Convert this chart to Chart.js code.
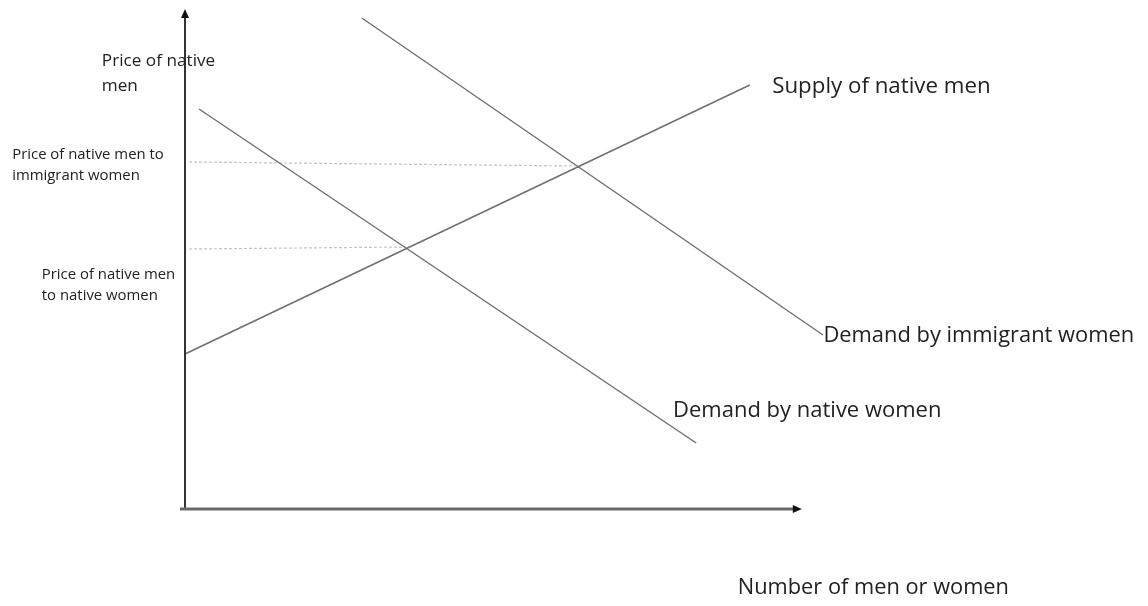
<!DOCTYPE html>
<html lang="en">
<head>
  <meta charset="UTF-8" />
  <title>Market for native men</title>
  <style>
    body { margin: 0; background: #fff; }
    #chart { display: block; }
  </style>
</head>
<body>
<canvas id="chart" width="1148" height="606"></canvas>
<script src="https://cdn.jsdelivr.net/npm/chart.js"></script>
<script>
  // curves in arbitrary units (x: quantity, y: price)
  const supplyNativeMen = [{x: 0, y: 31}, {x: 70.6, y: 84.8}];
  const demandNativeWomen = [{x: 1.75, y: 80}, {x: 63.9, y: 13.2}];
  const demandImmigrantWomen = [{x: 22.1, y: 98.2}, {x: 79.75, y: 34.8}];
  const priceImmigrantLine = [{x: 0.5, y: 69.4}, {x: 48.75, y: 68.6}];
  const priceNativeLine = [{x: 0.5, y: 52}, {x: 27.5, y: 52.4}];

  // axis extents (data units)
  const xAxisEnd = 77.1;
  const yAxisEnd = 100;

  const labels = [
    {lines: ['Supply of native men'], x: 73.4, y: 84.4, size: 22.3},
    {lines: ['Demand by immigrant women'], x: 79.8, y: 34.6, size: 21.9},
    {lines: ['Demand by native women'], x: 61, y: 19.6, size: 22},
    {lines: ['Number of men or women'], x: 69.1, y: -15.8, size: 21.8},
    {lines: ['Price of native', 'men'], x: -10.4, y: 89.6, size: 17.2, gap: 25},
    {lines: ['Price of native men to', 'immigrant women'], x: -21.6, y: 70.8, size: 14.9, gap: 21},
    {lines: ['Price of native men', 'to native women'], x: -17.9, y: 46.8, size: 14.9, gap: 21}
  ];

  const lineStyle = {borderColor: '#6e6e6e', borderWidth: 1.4, pointRadius: 0, showLine: true, clip: false};
  const dotStyle = {borderColor: '#c4c4c4', borderWidth: 1.2, borderDash: [3, 2], pointRadius: 0, showLine: true, clip: false};

  const decorPlugin = {
    id: 'decor',
    afterDatasetsDraw(chart) {
      const {ctx, scales: {x, y}} = chart;
      const x0 = x.getPixelForValue(0), y0 = y.getPixelForValue(0);
      const xe = x.getPixelForValue(xAxisEnd), ye = y.getPixelForValue(yAxisEnd);
      ctx.save();
      // y axis
      ctx.strokeStyle = '#333';
      ctx.lineWidth = 2;
      ctx.beginPath(); ctx.moveTo(x0, y0); ctx.lineTo(x0, ye + 6); ctx.stroke();
      ctx.fillStyle = '#111';
      ctx.beginPath(); ctx.moveTo(x0, ye); ctx.lineTo(x0 - 4, ye + 9); ctx.lineTo(x0 + 4, ye + 9); ctx.closePath(); ctx.fill();
      // x axis
      ctx.strokeStyle = '#6a6a6a';
      ctx.lineWidth = 3;
      ctx.beginPath(); ctx.moveTo(x0 - 5, y0); ctx.lineTo(xe - 6, y0); ctx.stroke();
      ctx.beginPath(); ctx.moveTo(xe, y0); ctx.lineTo(xe - 9, y0 - 4); ctx.lineTo(xe - 9, y0 + 4); ctx.closePath(); ctx.fill();
      // labels
      ctx.fillStyle = '#222';
      ctx.textBaseline = 'middle';
      labels.forEach(l => {
        ctx.font = l.size + 'px "Open Sans", sans-serif';
        const px = x.getPixelForValue(l.x), py = y.getPixelForValue(l.y);
        l.lines.forEach((t, i) => ctx.fillText(t, px, py + i * (l.gap || 0)));
      });
      ctx.restore();
    }
  };

  new Chart(document.getElementById('chart'), {
    type: 'scatter',
    data: {
      datasets: [
        {label: 'Supply of native men', data: supplyNativeMen, ...lineStyle},
        {label: 'Demand by native women', data: demandNativeWomen, ...lineStyle},
        {label: 'Demand by immigrant women', data: demandImmigrantWomen, ...lineStyle},
        {label: 'Price to immigrant women', data: priceImmigrantLine, ...dotStyle},
        {label: 'Price to native women', data: priceNativeLine, ...dotStyle}
      ]
    },
    options: {
      responsive: false,
      animation: false,
      layout: {padding: {left: 185, top: 9, right: 163, bottom: 97}},
      scales: {
        x: {type: 'linear', min: 0, max: 100, display: false},
        y: {type: 'linear', min: 0, max: 100, display: false}
      },
      plugins: {legend: {display: false}, tooltip: {enabled: false}}
    },
    plugins: [decorPlugin]
  });
</script>
</body>
</html>
